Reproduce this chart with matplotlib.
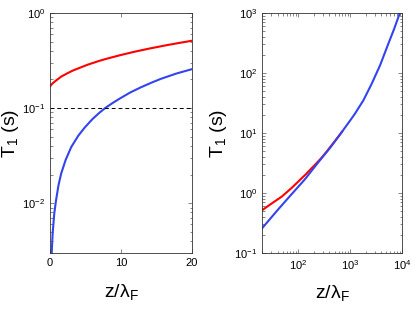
import matplotlib
matplotlib.use("Agg")
import matplotlib.pyplot as plt
from matplotlib.ticker import LogLocator, NullFormatter, FixedLocator

plt.rcParams['font.family'] = ['Liberation Sans', 'DejaVu Sans']
plt.rcParams['mathtext.fontset'] = 'custom'
plt.rcParams['mathtext.rm'] = 'Liberation Sans'
plt.rcParams['mathtext.it'] = 'Liberation Sans'

# --- left panel: linear z ---
z_lin_blue = [0.2, 0.37, 0.6, 0.855, 1.2, 1.57, 2.2, 2.99, 4.0, 4.89, 6.0,
              7.0, 7.76, 8.8, 9.9, 11.3, 12.76, 14.2, 15.6, 17.8, 20.0]
t_lin_blue = [0.0026, 0.0048, 0.0078, 0.0108, 0.0155, 0.0205, 0.0285, 0.0390,
              0.0515, 0.0625, 0.077, 0.090, 0.100, 0.113, 0.127, 0.146, 0.165,
              0.184, 0.203, 0.231, 0.257]

z_lin_red = [0.0, 0.15, 0.4, 0.7, 1.04, 1.6, 2.47, 3.2, 4.0, 5.3, 7.0, 8.2,
             10.0, 11.8, 14.0, 16.5, 18.3, 20.0]
t_lin_red = [0.169, 0.175, 0.183, 0.191, 0.200, 0.215, 0.233, 0.248, 0.262,
             0.286, 0.315, 0.334, 0.362, 0.390, 0.423, 0.460, 0.486, 0.511]

# --- right panel: log z ---
z_log_blue = [20, 40, 70, 135, 200, 282, 400, 590, 993, 1240, 1800, 2600,
              3800, 5430, 7000, 9100]
t_log_blue = [0.257, 0.52, 0.90, 1.70, 2.62, 3.8, 5.5, 8.6, 16.0, 21.0, 35.0,
              66.0, 136.0, 305.0, 534.0, 1000.0]

z_log_red = [20, 30, 48, 75, 100, 116, 140, 160, 210, 280, 353, 500, 700]
t_log_red = [0.515, 0.66, 0.87, 1.22, 1.55, 1.76, 2.05, 2.32, 2.95, 3.85, 4.9,
             7.2, 10.5]

red = '#ff0000'
blue = '#3344ee'
xlab = 'z/λ$_{\\mathregular{F}}$'
ylab = 'T$_{\\mathregular{1}}$ (s)'

fig = plt.figure(figsize=(4.15, 3.16), dpi=100)
ax1 = fig.add_axes([50/415, 63/316, 142/415, 240/316])
ax2 = fig.add_axes([262/415, 63/316, 140/415, 240/316])

for ax in (ax1, ax2):
    ax.tick_params(which='both', direction='in', top=True, right=True,
                   labelsize=8, color='#555555', width=0.5)
    ax.tick_params(which='major', length=3)
    ax.tick_params(which='minor', length=1.8)
    for s in ax.spines.values():
        s.set_linewidth(0.6)
        s.set_color('#333333')

# left
ax1.plot(z_lin_red, t_lin_red, color=red, lw=1.5)
ax1.plot(z_lin_blue, t_lin_blue, color=blue, lw=1.5)
ax1.axhline(0.1, color='black', lw=0.7, ls=(0, (4, 3)))
ax1.set_yscale('log')
ax1.set_xlim(0, 20)
ax1.set_ylim(0.003, 1)
ax1.xaxis.set_major_locator(FixedLocator([0, 10, 20]))
ax1.yaxis.set_major_locator(LogLocator(base=10, numticks=10))
ax1.yaxis.set_minor_locator(LogLocator(base=10, subs=range(2, 10), numticks=10))
ax1.yaxis.set_minor_formatter(NullFormatter())
ax1.set_xlabel(xlab, fontsize=14, labelpad=10)
ax1.set_ylabel(ylab, fontsize=14, labelpad=1)

# right
ax2.plot(z_log_red, t_log_red, color=red, lw=1.5)
ax2.plot(z_log_blue, t_log_blue, color=blue, lw=1.5)
ax2.set_xscale('log')
ax2.set_yscale('log')
ax2.set_xlim(20, 1e4)
ax2.set_ylim(0.1, 1000)
for a in (ax2.xaxis, ax2.yaxis):
    a.set_major_locator(LogLocator(base=10, numticks=10))
    a.set_minor_locator(LogLocator(base=10, subs=range(2, 10), numticks=10))
    a.set_minor_formatter(NullFormatter())
ax2.set_xlabel(xlab, fontsize=14, labelpad=8)
ax2.set_ylabel(ylab, fontsize=14, labelpad=4)

fig.savefig('out.png', dpi=100)
